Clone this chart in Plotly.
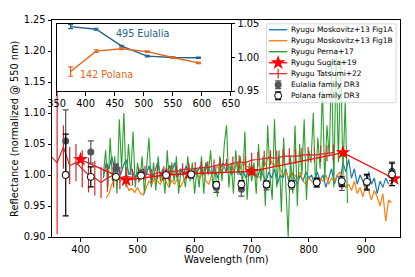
import plotly.graph_objects as go

# ---------------- data ----------------
# Gaia DR3 bands (nm)
dr3_wl = [374, 418, 462, 506, 550, 594, 638, 682, 726, 770, 814, 858, 902, 946]
eulalia_dr3 = [1.055, 1.037, 1.011, 1.003, 1.000, 1.000, 0.980, 0.977, 0.983, 0.984, 0.988, 0.985, 0.987, 1.006]
eulalia_dr3_err = [0.050, 0.018, 0.006, 0.005, 0.004, 0.005, 0.008, 0.011, 0.007, 0.007, 0.008, 0.010, 0.012, 0.015]
polana_dr3 = [1.000, 0.997, 0.997, 0.999, 1.000, 1.001, 0.984, 0.985, 0.985, 0.985, 0.988, 0.990, 0.989, 1.001]
polana_dr3_err = [0.066, 0.016, 0.004, 0.004, 0.003, 0.004, 0.005, 0.006, 0.005, 0.005, 0.006, 0.008, 0.012, 0.018]

# Inset: asteroid spectra
inset_wl = [374, 418, 462, 506, 550, 594]
eulalia_inset = [1.046, 1.042, 1.017, 1.002, 1.000, 0.9995]
eulalia_inset_err = [0.003, 0.0015, 0.0012, 0.001, 0.001, 0.001]
polana_inset = [0.979, 1.0095, 1.013, 1.0087, 1.000, 0.992]
polana_inset_err = [0.007, 0.002, 0.0015, 0.0012, 0.001, 0.0012]

# Moskovitz+13 Fig1A (blue)
mosk_a_wl = list(range(440, 941, 5))
mosk_a = [0.995, 1.020, 1.010, 1.030, 1.005, 1.020, 1.000, 1.015, 1.025, 1.000, 1.010, 0.995, 1.005,
          0.995, 1.010, 1.000, 1.015, 0.990, 1.005, 1.020, 1.000, 1.010, 0.995, 1.015, 1.005, 1.020, 0.995, 1.010, 1.000, 1.015, 1.005, 0.995, 1.010,
          1.005, 1.015, 1.000, 1.020, 1.010, 1.000, 1.015, 0.995, 1.010, 1.020, 1.005, 1.015, 1.000, 1.010, 1.020, 1.000, 1.005, 0.995, 1.010, 1.000,
          1.005, 0.995, 1.010, 1.000, 0.990, 1.005, 0.995, 1.010, 0.985, 1.000, 0.995, 1.010, 0.990, 1.005, 0.995, 0.985, 1.000, 0.990, 1.005, 0.995,
          1.000, 0.985, 1.005, 0.990, 1.000, 0.980, 0.995, 1.010, 0.985, 1.000, 0.990, 1.020, 1.005, 1.025, 0.995, 1.010, 0.985, 1.000, 0.990, 0.975,
          1.005, 0.985, 0.995, 0.970, 0.990, 0.980, 0.995, 0.985]

# Moskovitz+13 Fig1B (orange)
mosk_b_wl = list(range(445, 946, 5))
mosk_b = [0.963, 0.970, 0.985, 0.995, 1.000, 0.990, 0.998, 0.985, 0.975, 0.978, 0.972, 0.980,
          0.970, 0.968, 0.980, 0.990, 0.985, 0.995, 0.990, 0.985, 0.998, 0.990, 0.980, 0.992, 0.985, 0.995, 0.980, 0.990, 0.998, 1.000, 0.995, 1.005,
          1.000, 0.995, 1.010, 0.990, 0.985, 1.000, 1.005, 1.015, 1.005, 1.010, 1.020, 1.012, 1.005, 1.010, 1.018, 1.010, 1.020, 1.015, 1.012, 1.005,
          1.005, 1.000, 0.995, 1.010, 1.020, 1.030, 1.020, 1.015, 1.025, 1.010, 1.000, 1.005, 0.995, 1.005, 1.000, 0.995, 1.005, 0.990, 0.985, 0.995,
          0.990, 0.985, 0.980, 0.995, 0.990, 1.000, 0.985, 0.995, 0.990, 1.000, 1.005, 0.990, 0.980, 0.985, 0.975, 0.990, 0.970, 0.980, 0.965, 0.985,
          0.975, 0.960, 0.975, 0.965, 0.950, 0.970, 0.925, 0.960, 0.955]

# Perna+17 (green)
perna_wl = list(range(440, 869, 4))
perna = [1.000, 1.040, 0.980, 1.060, 0.990, 1.030, 0.970, 1.090, 1.010, 1.100, 0.980, 1.050, 1.000, 1.070, 0.980, 1.020,
         0.990, 1.030, 0.970, 1.010, 1.060, 0.980, 1.020, 0.975, 1.030, 0.990, 1.010, 0.970, 1.040, 0.980, 1.020, 0.990, 1.030, 0.970, 1.010, 1.000, 0.980, 1.030, 0.990, 1.020, 0.970,
         1.010, 0.980, 1.030, 0.970, 1.020, 1.000, 1.040, 0.980, 1.010, 0.965, 1.030, 0.990, 1.050, 1.080, 0.980, 1.020, 0.970, 1.040, 1.000, 1.030, 0.980, 1.070, 0.960, 1.020, 0.990,
         1.020, 0.970, 1.050, 0.990, 1.030, 0.950, 1.080, 1.000, 0.960, 1.090, 0.980, 1.040, 0.940, 1.060, 0.990, 0.900, 1.030, 0.970, 1.080, 0.950, 1.050, 1.000, 1.090, 0.960, 1.040,
         1.020, 1.100, 0.980, 1.060, 1.010, 1.140, 0.990, 1.080, 1.030, 1.180, 0.980, 1.200, 1.020, 1.190, 1.000, 1.120, 0.955]

# Sugita+19 (ECAS)
sugita_wl = [400, 480, 550, 590, 700, 860, 950]
sugita = [1.025, 0.992, 1.000, 1.002, 1.006, 1.036, 0.994]

# Tatsumi+22
tatsumi_wl = [348, 359, 370, 381, 392, 403, 414, 425, 436, 447, 458, 469, 480, 491, 502, 513, 524, 535, 546, 557,
              568, 579, 590, 601, 612, 623, 634, 645, 656, 667, 678, 689, 700, 711, 722, 733, 744, 755, 766, 777,
              788, 799, 810, 821, 832, 843]
tatsumi = [1.030, 1.020, 1.045, 1.015, 1.020, 1.010, 1.000, 0.995, 0.988, 0.995, 1.000, 0.995, 0.998, 0.996, 1.000, 1.003, 0.999, 1.004, 1.004, 1.006,
           1.006, 1.009, 1.009, 1.011, 1.012, 1.012, 1.015, 1.017, 1.016, 1.019, 1.021, 1.020, 1.024, 1.025, 1.027, 1.028, 1.027, 1.030, 1.031, 1.030,
           1.032, 1.033, 1.032, 1.034, 1.035, 1.036]
tatsumi_err = [0.0, 0.115, 0.035, 0.030, 0.030, 0.030, 0.028, 0.028, 0.025, 0.022, 0.020, 0.018, 0.015, 0.013, 0.012, 0.012, 0.011, 0.011, 0.010, 0.010,
               0.010, 0.010, 0.010, 0.010, 0.010, 0.010, 0.010, 0.010, 0.010, 0.011, 0.011, 0.011, 0.012, 0.012, 0.012, 0.012, 0.012, 0.012, 0.012, 0.012,
               0.012, 0.012, 0.012, 0.013, 0.013, 0.013]

legend_labels = ["Ryugu Moskovitz+13 Fig1A", "Ryugu Moskovitz+13 Fig1B", "Ryugu Perna+17",
                 "Ryugu Sugita+19", "Ryugu Tatsumi+22", "Eulalia family DR3", "Polana family DR3"]

# ---------------- styles ----------------
C_BLUE = "#1f77b4"
C_ORANGE = "#ff7f0e"
C_GREEN = "#2ca02c"
C_RED = "#d62728"
C_SUG = "#ff0000"
C_GRAY = "#555555"
C_IN_BLUE = "#23608e"
C_IN_ORANGE = "#e0661c"
FONT = "DejaVu Sans"
FS = 9.8

# target picture is 415x277; the html body adds an 8px margin, so the figure is 8px smaller
PAGE_OFF = 8
W, H = 415 - PAGE_OFF, 277 - PAGE_OFF
# plot-area edges in target-picture pixels
L, R, T, B = 52, 404, 14, 237

fig = go.Figure()

# main spectra
fig.add_trace(go.Scatter(x=mosk_a_wl, y=mosk_a, mode="lines", line=dict(color=C_BLUE, width=1.2),
                         xaxis="x", yaxis="y", showlegend=False))
fig.add_trace(go.Scatter(x=mosk_b_wl, y=mosk_b, mode="lines", line=dict(color=C_ORANGE, width=1.2),
                         xaxis="x", yaxis="y", showlegend=False))
fig.add_trace(go.Scatter(x=perna_wl, y=perna, mode="lines", line=dict(color=C_GREEN, width=1.1),
                         xaxis="x", yaxis="y", showlegend=False))
fig.add_trace(go.Scatter(x=sugita_wl, y=sugita, mode="lines+markers", line=dict(color=C_SUG, width=1.3),
                         marker=dict(symbol="star", size=11, color=C_SUG, line=dict(width=0)),
                         xaxis="x", yaxis="y", showlegend=False))
fig.add_trace(go.Scatter(x=tatsumi_wl, y=tatsumi, mode="lines", line=dict(color=C_RED, width=1.2),
                         error_y=dict(type="data", array=tatsumi_err, color=C_RED, thickness=1.2, width=0),
                         xaxis="x", yaxis="y", showlegend=False))
fig.add_trace(go.Scatter(x=dr3_wl, y=eulalia_dr3, mode="markers",
                         marker=dict(size=7, color=C_GRAY, line=dict(width=0)),
                         error_y=dict(type="data", array=eulalia_dr3_err, color=C_GRAY, thickness=1.2, width=3),
                         xaxis="x", yaxis="y", showlegend=False))
fig.add_trace(go.Scatter(x=dr3_wl, y=polana_dr3, mode="markers",
                         marker=dict(size=7, color="white", line=dict(width=1, color="black")),
                         error_y=dict(type="data", array=polana_dr3_err, color="black", thickness=1.2, width=3),
                         xaxis="x", yaxis="y", showlegend=False))

# inset
fig.add_trace(go.Scatter(x=inset_wl, y=eulalia_inset, mode="lines", line=dict(color=C_IN_BLUE, width=1.4),
                         error_y=dict(type="data", array=eulalia_inset_err, color=C_IN_BLUE, thickness=1.2, width=2.5),
                         xaxis="x2", yaxis="y2", showlegend=False))
fig.add_trace(go.Scatter(x=inset_wl, y=polana_inset, mode="lines", line=dict(color=C_IN_ORANGE, width=1.4),
                         error_y=dict(type="data", array=polana_inset_err, color=C_IN_ORANGE, thickness=1.2, width=2.5),
                         xaxis="x2", yaxis="y2", showlegend=False))

# ---------------- manual legend (pixel-coordinate overlay axes) ----------------
box_x0, box_x1, box_y0, box_y1 = 269, 400, 18, 99
rows = [24, 35.3, 46.6, 57.9, 69.2, 80.5, 91.8]
sx0, sx1 = 271.5, 290
sxm = (sx0 + sx1) / 2
fig.add_trace(go.Scatter(x=[box_x0, box_x1, box_x1, box_x0, box_x0], y=[box_y0, box_y0, box_y1, box_y1, box_y0],
                         mode="lines", fill="toself", fillcolor="rgba(255,255,255,0.8)",
                         line=dict(color="#cccccc", width=0.8), xaxis="x3", yaxis="y3", showlegend=False,
                         hoverinfo="skip"))
for r, c in zip(rows[:3], [C_BLUE, C_ORANGE, C_GREEN]):
    fig.add_trace(go.Scatter(x=[sx0, sx1], y=[r, r], mode="lines", line=dict(color=c, width=1.4),
                             xaxis="x3", yaxis="y3", showlegend=False, hoverinfo="skip"))
fig.add_trace(go.Scatter(x=[sx0, sx1], y=[rows[3], rows[3]], mode="lines", line=dict(color=C_SUG, width=1.3),
                         xaxis="x3", yaxis="y3", showlegend=False, hoverinfo="skip"))
fig.add_trace(go.Scatter(x=[sxm], y=[rows[3]], mode="markers", marker=dict(symbol="star", size=11, color=C_SUG),
                         xaxis="x3", yaxis="y3", showlegend=False, hoverinfo="skip"))
fig.add_trace(go.Scatter(x=[sx0, sx1], y=[rows[4], rows[4]], mode="lines", line=dict(color=C_RED, width=1.2),
                         xaxis="x3", yaxis="y3", showlegend=False, hoverinfo="skip"))
fig.add_trace(go.Scatter(x=[sxm, sxm], y=[rows[4] - 5, rows[4] + 5], mode="lines", line=dict(color=C_RED, width=1.2),
                         xaxis="x3", yaxis="y3", showlegend=False, hoverinfo="skip"))
fig.add_trace(go.Scatter(x=[sxm], y=[rows[5]], mode="markers", marker=dict(size=7, color=C_GRAY),
                         error_y=dict(type="constant", value=4, color=C_GRAY, thickness=1.2, width=3),
                         xaxis="x3", yaxis="y3", showlegend=False, hoverinfo="skip"))
fig.add_trace(go.Scatter(x=[sxm], y=[rows[6]], mode="markers",
                         marker=dict(size=7, color="white", line=dict(width=1, color="black")),
                         error_y=dict(type="constant", value=4, color="black", thickness=1.2, width=3),
                         xaxis="x3", yaxis="y3", showlegend=False, hoverinfo="skip"))

pw, ph = R - L, B - T
def px2paper_x(px):
    return (px - L) / pw
def px2paper_y(py):
    return (B - py) / ph

annotations = []
for r, lab in zip(rows, legend_labels):
    annotations.append(dict(x=292, y=r, xref="x3", yref="y3", text=lab, showarrow=False,
                            xanchor="left", yanchor="middle", font=dict(family=FONT, size=7.5, color="black")))
annotations.append(dict(x=449, y=1.0355, xref="x2", yref="y2", text="495 Eulalia", showarrow=False,
                        xanchor="left", yanchor="middle", font=dict(family=FONT, size=9.6, color=C_IN_BLUE)))
annotations.append(dict(x=387, y=0.974, xref="x2", yref="y2", text="142 Polana", showarrow=False,
                        xanchor="left", yanchor="middle", font=dict(family=FONT, size=9.6, color=C_IN_ORANGE)))
# axis titles
annotations.append(dict(x=0.5, y=px2paper_y(260), xref="paper", yref="paper", text="Wavelength (nm)",
                        showarrow=False, xanchor="center", yanchor="middle",
                        font=dict(family=FONT, size=FS, color="black")))
annotations.append(dict(x=px2paper_x(14), y=0.5, xref="paper", yref="paper",
                        text="Reflectance (normalized @ 550 nm)", textangle=-90,
                        showarrow=False, xanchor="center", yanchor="middle",
                        font=dict(family=FONT, size=FS, color="black")))

axis_common = dict(showline=True, linecolor="black", linewidth=1, mirror=True, ticks="outside",
                   ticklen=3.5, tickwidth=0.8, tickcolor="black", showgrid=False, zeroline=False,
                   tickfont=dict(family=FONT, size=FS, color="black"))

fig.update_layout(
    width=W, height=H,
    margin=dict(l=L - PAGE_OFF, r=415 - R, t=T - PAGE_OFF, b=277 - B, pad=0),
    paper_bgcolor="white", plot_bgcolor="white",
    font=dict(family=FONT, size=FS, color="black"),
    showlegend=False,
    xaxis=dict(domain=[0, 1], range=[350, 960], tickvals=[400, 500, 600, 700, 800, 900], anchor="y",
               **axis_common),
    yaxis=dict(domain=[0, 1], range=[0.90, 1.25], tickvals=[0.90, 0.95, 1.00, 1.05, 1.10, 1.15, 1.20, 1.25],
               tickformat=".2f", anchor="x", **axis_common),
    xaxis2=dict(domain=[px2paper_x(56.7), px2paper_x(233)], range=[350, 650],
                tickvals=[350, 400, 450, 500, 550, 600, 650], anchor="y2", **axis_common),
    yaxis2=dict(domain=[px2paper_y(87), px2paper_y(18)], range=[0.95, 1.05], tickvals=[0.95, 1.00, 1.05],
                tickformat=".2f", anchor="x2", side="right", **axis_common),
    xaxis3=dict(domain=[0, 1], range=[L, R], overlaying="x", anchor="y3", visible=False, fixedrange=True),
    yaxis3=dict(domain=[0, 1], range=[B, T], overlaying="y", anchor="x3", visible=False, fixedrange=True),
    annotations=annotations,
)

fig.write_html("out.html")
